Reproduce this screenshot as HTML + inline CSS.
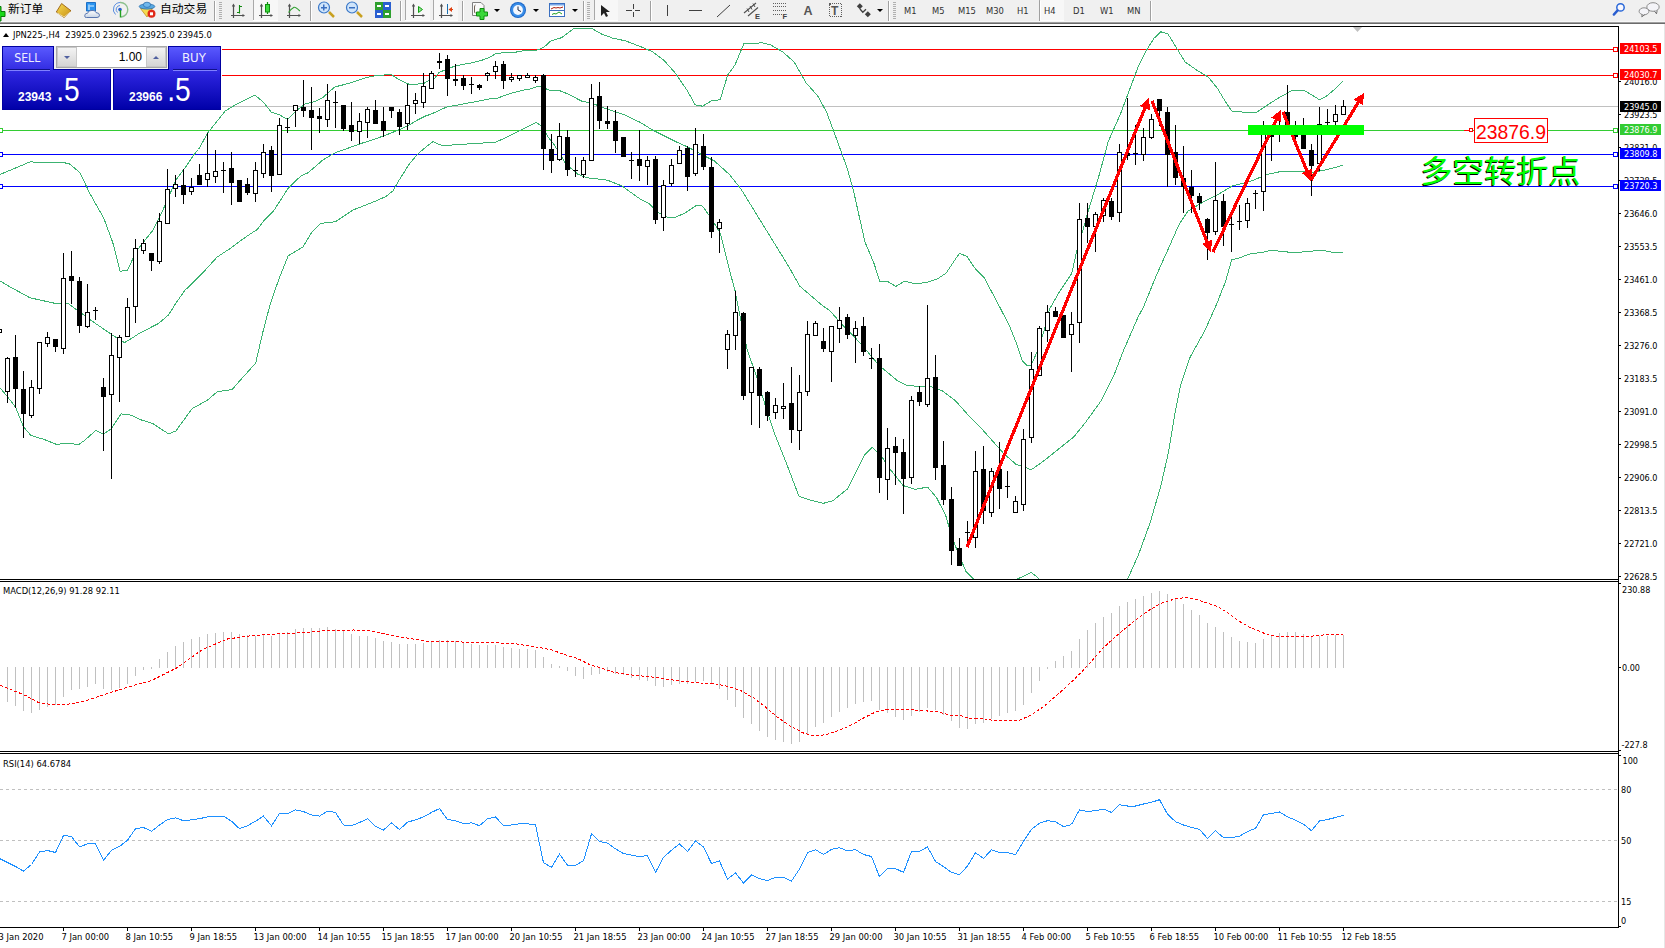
<!DOCTYPE html><html><head><meta charset="utf-8"><title>MT4 JPN225 H4</title><style>
html,body{margin:0;padding:0;background:#fff;}
body{width:1665px;height:948px;overflow:hidden;position:relative;}
svg{position:absolute;left:0;top:0;display:block;}
text{font-family:"Liberation Sans","DejaVu Sans",sans-serif;}
.cjk{font-family:"Liberation Sans","Noto Sans CJK SC","WenQuanYi Zen Hei",sans-serif;}
.s{font-family:"DejaVu Sans","Liberation Sans",sans-serif;}
</style></head><body>
<svg width="1665" height="948" viewBox="0 0 1665 948">
<defs><clipPath id="mainclip"><rect x="0" y="27" width="1618" height="552"/></clipPath><clipPath id="macdclip"><rect x="0" y="582" width="1618" height="169"/></clipPath><clipPath id="rsiclip"><rect x="0" y="754" width="1618" height="173"/></clipPath><linearGradient id="bluegrad" x1="0" y1="0" x2="0" y2="1"><stop offset="0" stop-color="#5a5aff"/><stop offset="0.45" stop-color="#2a22dc"/><stop offset="1" stop-color="#0000a8"/></linearGradient><linearGradient id="btngrad" x1="0" y1="0" x2="0" y2="1"><stop offset="0" stop-color="#f4f4f4"/><stop offset="1" stop-color="#d4d4d4"/></linearGradient></defs>
<g shape-rendering="crispEdges">
<rect x="0" y="0" width="1665" height="948" fill="#ffffff"/>
<rect x="0" y="0" width="1665" height="21" fill="#f0f0f0"/>
<rect x="0" y="21" width="1665" height="1" fill="#f7f7f7"/>
<rect x="0" y="22" width="1665" height="1" fill="#a0a0a0"/>
<rect x="0" y="23" width="1665" height="1" fill="#6b6b6b"/>
<rect x="1664" y="24" width="1" height="924" fill="#e6e6e6"/>
<rect x="0" y="26" width="1619" height="1" fill="#000"/>
<rect x="0" y="579" width="1619" height="1" fill="#000"/>
<rect x="0" y="581" width="1619" height="1" fill="#000"/>
<rect x="0" y="751" width="1619" height="1" fill="#000"/>
<rect x="0" y="753" width="1619" height="1" fill="#000"/>
<rect x="0" y="927" width="1619" height="1" fill="#000"/>
<rect x="1618" y="26" width="1" height="902" fill="#000"/>
</g>
<g shape-rendering="crispEdges"><rect x="1619" y="81" width="2" height="1" fill="#000"/><text class="s" x="1624.0" y="85.0" font-size="9" fill="#000" textLength="33.5" lengthAdjust="spacingAndGlyphs">24016.0</text><rect x="1619" y="114" width="2" height="1" fill="#000"/><text class="s" x="1624.0" y="118.0" font-size="9" fill="#000" textLength="33.5" lengthAdjust="spacingAndGlyphs">23923.5</text><rect x="1619" y="147" width="2" height="1" fill="#000"/><text class="s" x="1624.0" y="151.0" font-size="9" fill="#000" textLength="33.5" lengthAdjust="spacingAndGlyphs">23831.0</text><rect x="1619" y="180" width="2" height="1" fill="#000"/><text class="s" x="1624.0" y="184.0" font-size="9" fill="#000" textLength="33.5" lengthAdjust="spacingAndGlyphs">23738.5</text><rect x="1619" y="213" width="2" height="1" fill="#000"/><text class="s" x="1624.0" y="217.0" font-size="9" fill="#000" textLength="33.5" lengthAdjust="spacingAndGlyphs">23646.0</text><rect x="1619" y="246" width="2" height="1" fill="#000"/><text class="s" x="1624.0" y="250.0" font-size="9" fill="#000" textLength="33.5" lengthAdjust="spacingAndGlyphs">23553.5</text><rect x="1619" y="279" width="2" height="1" fill="#000"/><text class="s" x="1624.0" y="283.0" font-size="9" fill="#000" textLength="33.5" lengthAdjust="spacingAndGlyphs">23461.0</text><rect x="1619" y="312" width="2" height="1" fill="#000"/><text class="s" x="1624.0" y="316.0" font-size="9" fill="#000" textLength="33.5" lengthAdjust="spacingAndGlyphs">23368.5</text><rect x="1619" y="345" width="2" height="1" fill="#000"/><text class="s" x="1624.0" y="349.0" font-size="9" fill="#000" textLength="33.5" lengthAdjust="spacingAndGlyphs">23276.0</text><rect x="1619" y="378" width="2" height="1" fill="#000"/><text class="s" x="1624.0" y="382.0" font-size="9" fill="#000" textLength="33.5" lengthAdjust="spacingAndGlyphs">23183.5</text><rect x="1619" y="411" width="2" height="1" fill="#000"/><text class="s" x="1624.0" y="415.0" font-size="9" fill="#000" textLength="33.5" lengthAdjust="spacingAndGlyphs">23091.0</text><rect x="1619" y="444" width="2" height="1" fill="#000"/><text class="s" x="1624.0" y="448.0" font-size="9" fill="#000" textLength="33.5" lengthAdjust="spacingAndGlyphs">22998.5</text><rect x="1619" y="477" width="2" height="1" fill="#000"/><text class="s" x="1624.0" y="481.0" font-size="9" fill="#000" textLength="33.5" lengthAdjust="spacingAndGlyphs">22906.0</text><rect x="1619" y="510" width="2" height="1" fill="#000"/><text class="s" x="1624.0" y="514.0" font-size="9" fill="#000" textLength="33.5" lengthAdjust="spacingAndGlyphs">22813.5</text><rect x="1619" y="543" width="2" height="1" fill="#000"/><text class="s" x="1624.0" y="547.0" font-size="9" fill="#000" textLength="33.5" lengthAdjust="spacingAndGlyphs">22721.0</text><rect x="1619" y="576" width="2" height="1" fill="#000"/><text class="s" x="1624.0" y="580.0" font-size="9" fill="#000" textLength="33.5" lengthAdjust="spacingAndGlyphs">22628.5</text></g>
<g shape-rendering="crispEdges"><rect x="-1.5" y="329.5" width="3" height="3" fill="#fff" stroke="#000" stroke-width="1"/><rect x="222" y="49" width="1391" height="1" fill="#ff0000"/><rect x="1613.5" y="47.5" width="4" height="4" fill="#fff" stroke="#ff0000" stroke-width="1"/><rect x="222" y="75" width="1391" height="1" fill="#ff0000"/><rect x="1613.5" y="73.5" width="4" height="4" fill="#fff" stroke="#ff0000" stroke-width="1"/><rect x="222" y="106" width="1396" height="1" fill="#c0c0c0"/><rect x="0" y="130" width="1613" height="1" fill="#33cc33"/><rect x="1613.5" y="128.5" width="4" height="4" fill="#fff" stroke="#33cc33" stroke-width="1"/><rect x="-1.5" y="128.5" width="4" height="4" fill="#fff" stroke="#33cc33" stroke-width="1"/><rect x="0" y="154" width="1613" height="1" fill="#0000ff"/><rect x="1613.5" y="152.5" width="4" height="4" fill="#fff" stroke="#0000ff" stroke-width="1"/><rect x="-1.5" y="152.5" width="4" height="4" fill="#fff" stroke="#0000ff" stroke-width="1"/><rect x="0" y="186" width="1613" height="1" fill="#0000ff"/><rect x="1613.5" y="184.5" width="4" height="4" fill="#fff" stroke="#0000ff" stroke-width="1"/><rect x="-1.5" y="184.5" width="4" height="4" fill="#fff" stroke="#0000ff" stroke-width="1"/></g>
<g clip-path="url(#mainclip)" fill="none" stroke="#3cb371" stroke-width="1" shape-rendering="crispEdges">
<polyline points="-1.5,175.5 0.5,174.3 30.0,161.9 68.5,163.1 80.2,172.9 89.1,192.1 103.9,218.5 112.7,242.3 120.1,271.2 127.5,270.3 136.4,251.1 143.5,242.1 152.3,231.0 159.7,217.0 167.8,199.2 175.9,180.0 184.8,168.2 193.7,154.9 198.5,149.5 207.8,132.8 225.5,110.7 237.3,103.9 255.0,95.0 263.9,102.7 271.2,112.1 280.1,115.1 287.5,119.5 296.4,110.7 305.2,103.9 314.1,101.8 322.9,97.4 334.7,87.0 349.5,83.2 367.2,77.3 373.1,76.1 390.9,74.3 400.5,80.5 410.8,85.0 424.1,83.2 430.5,79.5 434.5,78.5 438.9,72.7 447.4,68.8 455.8,65.8 464.3,64.2 472.7,62.7 481.1,60.5 489.5,57.4 495.9,53.7 504.3,52.6 514.9,52.3 523.3,50.8 536.0,50.5 540.2,48.9 544.4,46.8 550.8,41.0 561.5,37.7 568.8,32.4 574.7,28.0 591.0,28.0 601.3,33.9 613.1,38.3 625.0,40.7 640.5,46.6 652.3,51.6 664.1,60.5 675.9,73.8 687.8,91.5 695.1,104.8 702.5,106.2 711.4,100.9 720.2,99.7 727.6,75.2 735.0,64.9 743.9,43.6 752.7,43.6 761.6,42.7 770.4,44.8 782.3,51.6 794.1,61.9 805.9,82.6 817.7,95.9 826.6,112.1 835.4,135.8 847.2,168.3 853.1,188.9 859.0,215.5 865.0,242.1 873.8,262.8 879.7,281.1 887.1,281.1 895.9,286.4 904.8,281.1 913.7,283.5 925.5,282.8 937.3,279.0 946.1,273.1 959.4,253.3 966.8,256.3 975.7,269.3 984.5,278.1 991.9,292.3 1000.7,308.8 1009.9,327.1 1016.0,342.3 1022.1,360.6 1026.7,365.2 1031.2,365.2 1037.3,351.5 1043.4,333.2 1049.5,308.8 1052.5,304.1 1057.4,295.1 1071.8,273.2 1076.8,250.5 1082.7,231.0 1087.8,212.5 1094.5,190.5 1099.4,174.2 1108.2,141.7 1120.0,115.1 1128.9,91.5 1137.8,67.8 1146.6,50.1 1154.0,38.3 1160.8,31.8 1167.9,33.9 1176.1,47.2 1185.0,61.9 1196.8,70.2 1208.6,77.3 1217.5,88.5 1226.4,103.3 1232.3,111.6 1244.1,112.1 1255.9,112.7 1267.7,104.8 1279.5,97.4 1291.3,90.9 1303.1,90.0 1312.0,95.0 1319.4,99.7 1326.8,95.9 1335.6,88.5 1343.0,81.1"/>
<polyline points="-1.5,280.5 0.5,281.2 9.4,286.5 30.0,297.8 56.6,303.7 68.5,303.7 89.1,319.0 112.7,335.3 124.5,342.7 136.4,335.3 140.5,332.6 158.2,323.7 168.6,314.9 175.3,304.1 184.8,290.5 202.5,273.1 217.3,256.9 229.1,249.2 246.9,236.2 257.2,229.5 264.6,219.9 273.5,211.1 288.2,188.2 300.5,176.3 308.2,172.7 322.2,160.5 333.8,153.3 360.2,143.8 376.0,138.6 384.5,135.6 397.1,130.6 407.6,125.9 418.2,119.6 425.5,116.0 430.5,114.3 438.9,110.6 447.4,106.7 455.8,105.4 465.3,103.6 472.7,102.2 481.1,100.6 489.5,99.0 497.0,98.5 504.3,95.4 514.9,92.2 523.3,90.1 529.7,89.2 536.0,86.9 540.2,86.7 546.5,89.0 551.8,90.9 560.2,90.9 567.6,93.8 582.4,101.5 590.5,102.7 607.2,109.2 625.0,115.1 640.5,122.5 652.3,129.9 664.1,135.8 675.9,141.7 687.8,147.0 699.6,153.5 714.3,160.9 729.1,174.2 740.9,188.9 752.7,208.1 764.5,227.3 776.4,246.5 788.2,265.7 800.0,286.4 811.8,296.5 823.6,306.5 829.5,310.3 841.7,324.0 853.9,336.2 866.1,350.0 878.8,365.2 887.9,372.8 897.1,380.4 906.2,385.0 918.4,386.5 930.6,386.5 942.8,391.1 955.0,400.3 967.2,414.0 979.4,426.2 991.6,439.9 1003.8,453.6 1016.0,464.3 1025.1,467.3 1031.2,469.8 1043.4,461.2 1058.7,449.0 1073.9,436.8 1086.1,421.6 1101.5,400.3 1113.7,375.9 1123.5,350.5 1138.1,317.0 1143.7,306.5 1155.5,277.5 1167.3,251.0 1179.1,224.4 1188.0,211.1 1202.7,202.2 1217.5,194.8 1232.3,186.0 1250.0,181.5 1267.7,174.2 1282.5,171.2 1297.2,171.2 1312.0,172.7 1326.8,169.7 1343.0,165.3"/>
<polyline points="-1.5,386.5 0.5,388.5 8.1,397.5 15.7,407.5 23.3,426.5 30.9,435.5 43.5,439.2 56.2,444.3 66.3,443.5 79.0,444.3 84.5,440.5 95.7,430.4 103.3,434.2 110.9,429.1 121.0,413.9 131.1,415.2 140.5,419.7 152.3,423.3 168.6,433.9 175.9,430.9 192.2,408.5 207.0,400.5 217.3,391.7 232.1,389.6 238.0,382.8 255.7,363.0 263.1,331.1 270.5,303.1 279.3,278.0 288.2,255.8 302.9,247.0 311.8,232.2 320.7,223.3 335.4,221.8 353.1,210.0 373.8,201.8 385.6,196.7 393.0,190.8 398.9,180.5 409.4,163.8 418.2,153.5 427.1,146.1 433.0,141.7 441.8,145.5 459.5,144.6 477.3,143.2 495.0,142.6 512.7,134.3 524.5,128.4 536.4,122.5 542.3,126.9 548.2,137.3 554.1,144.6 565.9,163.8 577.7,174.2 586.6,177.7 607.2,180.1 622.0,186.0 640.5,199.3 649.4,203.7 658.2,212.6 667.1,217.0 675.9,217.0 684.8,213.2 696.6,205.2 702.5,206.1 711.4,218.5 720.2,233.2 729.1,268.7 735.0,290.5 741.1,321.0 747.2,350.0 756.4,375.9 765.5,406.4 774.6,433.8 786.8,464.3 799.0,496.3 811.2,500.3 823.4,503.3 832.6,500.9 847.8,488.7 864.6,455.1 872.2,447.5 881.8,456.7 891.0,470.4 903.2,485.6 915.4,489.3 927.6,487.1 936.7,497.8 945.9,516.1 952.0,537.5 958.1,552.7 965.7,571.0 973.3,578.6 985.5,590.5 1005.5,590.5 1016.0,579.5 1025.1,575.5 1031.2,572.5 1037.3,577.1 1045.5,590.5 1115.5,600.5 1127.4,579.5 1138.1,555.7 1150.3,522.2 1160.9,485.6 1168.5,452.1 1174.6,415.5 1180.7,385.0 1189.9,357.6 1205.1,330.1 1217.3,302.7 1221.9,290.5 1224.9,283.5 1231.7,259.8 1238.2,258.3 1250.0,253.9 1261.8,252.4 1272.1,250.1 1282.5,251.8 1297.2,252.4 1309.0,251.5 1320.9,250.1 1332.7,252.4 1343.0,253.0"/>
</g>
<g clip-path="url(#mainclip)" shape-rendering="crispEdges"><rect x="7" y="357" width="1" height="46" fill="#000"/><rect x="5" y="358" width="5" height="34" fill="#000"/><rect x="6" y="359" width="3" height="32" fill="#fff"/><rect x="15" y="335" width="1" height="73" fill="#000"/><rect x="13" y="357" width="5" height="32" fill="#000"/><rect x="23" y="371" width="1" height="67" fill="#000"/><rect x="21" y="389" width="5" height="25" fill="#000"/><rect x="31" y="380" width="1" height="38" fill="#000"/><rect x="29" y="387" width="5" height="29" fill="#000"/><rect x="30" y="388" width="3" height="27" fill="#fff"/><rect x="39" y="342" width="1" height="52" fill="#000"/><rect x="37" y="342" width="5" height="47" fill="#000"/><rect x="38" y="343" width="3" height="45" fill="#fff"/><rect x="47" y="332" width="1" height="15" fill="#000"/><rect x="45" y="337" width="5" height="7" fill="#000"/><rect x="46" y="338" width="3" height="5" fill="#fff"/><rect x="55" y="339" width="1" height="13" fill="#000"/><rect x="53" y="339" width="5" height="8" fill="#000"/><rect x="63" y="253" width="1" height="101" fill="#000"/><rect x="61" y="278" width="5" height="71" fill="#000"/><rect x="62" y="279" width="3" height="69" fill="#fff"/><rect x="71" y="251" width="1" height="53" fill="#000"/><rect x="69" y="276" width="5" height="5" fill="#000"/><rect x="79" y="277" width="1" height="56" fill="#000"/><rect x="77" y="281" width="5" height="45" fill="#000"/><rect x="87" y="284" width="1" height="44" fill="#000"/><rect x="85" y="312" width="5" height="15" fill="#000"/><rect x="86" y="313" width="3" height="13" fill="#fff"/><rect x="95" y="307" width="1" height="13" fill="#000"/><rect x="93" y="310" width="5" height="1" fill="#000"/><rect x="103" y="378" width="1" height="73" fill="#000"/><rect x="101" y="387" width="5" height="10" fill="#000"/><rect x="111" y="333" width="1" height="146" fill="#000"/><rect x="109" y="355" width="5" height="40" fill="#000"/><rect x="110" y="356" width="3" height="38" fill="#fff"/><rect x="119" y="335" width="1" height="67" fill="#000"/><rect x="117" y="337" width="5" height="21" fill="#000"/><rect x="118" y="338" width="3" height="19" fill="#fff"/><rect x="127" y="298" width="1" height="39" fill="#000"/><rect x="125" y="307" width="5" height="30" fill="#000"/><rect x="126" y="308" width="3" height="28" fill="#fff"/><rect x="135" y="239" width="1" height="84" fill="#000"/><rect x="133" y="248" width="5" height="59" fill="#000"/><rect x="134" y="249" width="3" height="57" fill="#fff"/><rect x="143" y="239" width="1" height="15" fill="#000"/><rect x="141" y="243" width="5" height="8" fill="#000"/><rect x="142" y="244" width="3" height="6" fill="#fff"/><rect x="151" y="253" width="1" height="18" fill="#000"/><rect x="149" y="253" width="5" height="8" fill="#000"/><rect x="159" y="213" width="1" height="51" fill="#000"/><rect x="157" y="221" width="5" height="41" fill="#000"/><rect x="158" y="222" width="3" height="39" fill="#fff"/><rect x="167" y="169" width="1" height="55" fill="#000"/><rect x="165" y="189" width="5" height="35" fill="#000"/><rect x="166" y="190" width="3" height="33" fill="#fff"/><rect x="175" y="175" width="1" height="22" fill="#000"/><rect x="173" y="184" width="5" height="5" fill="#000"/><rect x="174" y="185" width="3" height="3" fill="#fff"/><rect x="183" y="169" width="1" height="35" fill="#000"/><rect x="181" y="185" width="5" height="10" fill="#000"/><rect x="191" y="178" width="1" height="17" fill="#000"/><rect x="189" y="187" width="5" height="5" fill="#000"/><rect x="190" y="188" width="3" height="3" fill="#fff"/><rect x="199" y="164" width="1" height="21" fill="#000"/><rect x="197" y="175" width="5" height="10" fill="#000"/><rect x="207" y="133" width="1" height="54" fill="#000"/><rect x="205" y="173" width="5" height="7" fill="#000"/><rect x="206" y="174" width="3" height="5" fill="#fff"/><rect x="215" y="150" width="1" height="33" fill="#000"/><rect x="213" y="171" width="5" height="6" fill="#000"/><rect x="214" y="172" width="3" height="4" fill="#fff"/><rect x="223" y="162" width="1" height="31" fill="#000"/><rect x="221" y="170" width="5" height="1" fill="#000"/><rect x="231" y="152" width="1" height="53" fill="#000"/><rect x="229" y="168" width="5" height="15" fill="#000"/><rect x="239" y="180" width="1" height="22" fill="#000"/><rect x="237" y="180" width="5" height="22" fill="#000"/><rect x="247" y="178" width="1" height="17" fill="#000"/><rect x="245" y="184" width="5" height="9" fill="#000"/><rect x="255" y="162" width="1" height="40" fill="#000"/><rect x="253" y="170" width="5" height="24" fill="#000"/><rect x="254" y="171" width="3" height="22" fill="#fff"/><rect x="263" y="144" width="1" height="34" fill="#000"/><rect x="261" y="152" width="5" height="22" fill="#000"/><rect x="262" y="153" width="3" height="20" fill="#fff"/><rect x="271" y="146" width="1" height="46" fill="#000"/><rect x="269" y="150" width="5" height="26" fill="#000"/><rect x="279" y="118" width="1" height="57" fill="#000"/><rect x="277" y="125" width="5" height="50" fill="#000"/><rect x="278" y="126" width="3" height="48" fill="#fff"/><rect x="287" y="118" width="1" height="15" fill="#000"/><rect x="285" y="127" width="5" height="1" fill="#000"/><rect x="295" y="105" width="1" height="22" fill="#000"/><rect x="293" y="105" width="5" height="6" fill="#000"/><rect x="294" y="106" width="3" height="4" fill="#fff"/><rect x="303" y="80" width="1" height="37" fill="#000"/><rect x="301" y="107" width="5" height="4" fill="#000"/><rect x="311" y="87" width="1" height="63" fill="#000"/><rect x="309" y="110" width="5" height="8" fill="#000"/><rect x="319" y="108" width="1" height="25" fill="#000"/><rect x="317" y="116" width="5" height="3" fill="#000"/><rect x="327" y="84" width="1" height="43" fill="#000"/><rect x="325" y="100" width="5" height="20" fill="#000"/><rect x="326" y="101" width="3" height="18" fill="#fff"/><rect x="335" y="91" width="1" height="37" fill="#000"/><rect x="333" y="102" width="5" height="1" fill="#000"/><rect x="343" y="105" width="1" height="26" fill="#000"/><rect x="341" y="105" width="5" height="24" fill="#000"/><rect x="351" y="102" width="1" height="39" fill="#000"/><rect x="349" y="125" width="5" height="7" fill="#000"/><rect x="359" y="113" width="1" height="31" fill="#000"/><rect x="357" y="121" width="5" height="11" fill="#000"/><rect x="358" y="122" width="3" height="9" fill="#fff"/><rect x="367" y="107" width="1" height="31" fill="#000"/><rect x="365" y="109" width="5" height="14" fill="#000"/><rect x="366" y="110" width="3" height="12" fill="#fff"/><rect x="375" y="100" width="1" height="24" fill="#000"/><rect x="373" y="110" width="5" height="14" fill="#000"/><rect x="383" y="107" width="1" height="30" fill="#000"/><rect x="381" y="121" width="5" height="10" fill="#000"/><rect x="391" y="107" width="1" height="11" fill="#000"/><rect x="389" y="107" width="5" height="4" fill="#000"/><rect x="399" y="109" width="1" height="26" fill="#000"/><rect x="397" y="112" width="5" height="15" fill="#000"/><rect x="407" y="84" width="1" height="46" fill="#000"/><rect x="405" y="105" width="5" height="19" fill="#000"/><rect x="406" y="106" width="3" height="17" fill="#fff"/><rect x="415" y="93" width="1" height="21" fill="#000"/><rect x="413" y="100" width="5" height="4" fill="#000"/><rect x="414" y="101" width="3" height="2" fill="#fff"/><rect x="423" y="73" width="1" height="35" fill="#000"/><rect x="421" y="86" width="5" height="17" fill="#000"/><rect x="422" y="87" width="3" height="15" fill="#fff"/><rect x="431" y="71" width="1" height="18" fill="#000"/><rect x="429" y="73" width="5" height="16" fill="#000"/><rect x="430" y="74" width="3" height="14" fill="#fff"/><rect x="439" y="53" width="1" height="16" fill="#000"/><rect x="437" y="61" width="5" height="2" fill="#000"/><rect x="447" y="55" width="1" height="41" fill="#000"/><rect x="445" y="59" width="5" height="20" fill="#000"/><rect x="455" y="64" width="1" height="22" fill="#000"/><rect x="453" y="79" width="5" height="2" fill="#000"/><rect x="463" y="75" width="1" height="15" fill="#000"/><rect x="461" y="78" width="5" height="8" fill="#000"/><rect x="471" y="77" width="1" height="17" fill="#000"/><rect x="469" y="84" width="5" height="1" fill="#000"/><rect x="479" y="84" width="1" height="6" fill="#000"/><rect x="477" y="85" width="5" height="3" fill="#000"/><rect x="487" y="72" width="1" height="9" fill="#000"/><rect x="485" y="73" width="5" height="3" fill="#000"/><rect x="486" y="74" width="3" height="1" fill="#fff"/><rect x="495" y="61" width="1" height="18" fill="#000"/><rect x="493" y="66" width="5" height="6" fill="#000"/><rect x="494" y="67" width="3" height="4" fill="#fff"/><rect x="503" y="61" width="1" height="28" fill="#000"/><rect x="501" y="64" width="5" height="17" fill="#000"/><rect x="511" y="73" width="1" height="9" fill="#000"/><rect x="509" y="77" width="5" height="3" fill="#000"/><rect x="510" y="78" width="3" height="1" fill="#fff"/><rect x="519" y="75" width="1" height="6" fill="#000"/><rect x="517" y="75" width="5" height="4" fill="#000"/><rect x="518" y="76" width="3" height="2" fill="#fff"/><rect x="527" y="73" width="1" height="5" fill="#000"/><rect x="525" y="75" width="5" height="3" fill="#000"/><rect x="526" y="76" width="3" height="1" fill="#fff"/><rect x="535" y="75" width="1" height="8" fill="#000"/><rect x="533" y="77" width="5" height="4" fill="#000"/><rect x="534" y="78" width="3" height="2" fill="#fff"/><rect x="543" y="74" width="1" height="96" fill="#000"/><rect x="541" y="75" width="5" height="74" fill="#000"/><rect x="551" y="134" width="1" height="39" fill="#000"/><rect x="549" y="149" width="5" height="12" fill="#000"/><rect x="559" y="123" width="1" height="38" fill="#000"/><rect x="557" y="136" width="5" height="24" fill="#000"/><rect x="558" y="137" width="3" height="22" fill="#fff"/><rect x="567" y="130" width="1" height="46" fill="#000"/><rect x="565" y="137" width="5" height="33" fill="#000"/><rect x="575" y="157" width="1" height="20" fill="#000"/><rect x="573" y="170" width="5" height="1" fill="#000"/><rect x="583" y="157" width="1" height="21" fill="#000"/><rect x="581" y="160" width="5" height="15" fill="#000"/><rect x="582" y="161" width="3" height="13" fill="#fff"/><rect x="591" y="84" width="1" height="77" fill="#000"/><rect x="589" y="98" width="5" height="63" fill="#000"/><rect x="590" y="99" width="3" height="61" fill="#fff"/><rect x="599" y="82" width="1" height="47" fill="#000"/><rect x="597" y="96" width="5" height="25" fill="#000"/><rect x="607" y="106" width="1" height="23" fill="#000"/><rect x="605" y="121" width="5" height="3" fill="#000"/><rect x="615" y="110" width="1" height="43" fill="#000"/><rect x="613" y="121" width="5" height="20" fill="#000"/><rect x="623" y="137" width="1" height="20" fill="#000"/><rect x="621" y="137" width="5" height="20" fill="#000"/><rect x="631" y="152" width="1" height="27" fill="#000"/><rect x="629" y="160" width="5" height="1" fill="#000"/><rect x="639" y="130" width="1" height="51" fill="#000"/><rect x="637" y="159" width="5" height="7" fill="#000"/><rect x="647" y="156" width="1" height="29" fill="#000"/><rect x="645" y="160" width="5" height="7" fill="#000"/><rect x="646" y="161" width="3" height="5" fill="#fff"/><rect x="655" y="156" width="1" height="68" fill="#000"/><rect x="653" y="159" width="5" height="61" fill="#000"/><rect x="663" y="180" width="1" height="51" fill="#000"/><rect x="661" y="185" width="5" height="33" fill="#000"/><rect x="662" y="186" width="3" height="31" fill="#fff"/><rect x="671" y="159" width="1" height="27" fill="#000"/><rect x="669" y="165" width="5" height="19" fill="#000"/><rect x="670" y="166" width="3" height="17" fill="#fff"/><rect x="679" y="146" width="1" height="18" fill="#000"/><rect x="677" y="150" width="5" height="14" fill="#000"/><rect x="678" y="151" width="3" height="12" fill="#fff"/><rect x="687" y="146" width="1" height="45" fill="#000"/><rect x="685" y="148" width="5" height="29" fill="#000"/><rect x="695" y="128" width="1" height="48" fill="#000"/><rect x="693" y="144" width="5" height="30" fill="#000"/><rect x="694" y="145" width="3" height="28" fill="#fff"/><rect x="703" y="134" width="1" height="36" fill="#000"/><rect x="701" y="146" width="5" height="21" fill="#000"/><rect x="711" y="157" width="1" height="81" fill="#000"/><rect x="709" y="167" width="5" height="65" fill="#000"/><rect x="719" y="219" width="1" height="34" fill="#000"/><rect x="717" y="222" width="5" height="7" fill="#000"/><rect x="718" y="223" width="3" height="5" fill="#fff"/><rect x="727" y="330" width="1" height="39" fill="#000"/><rect x="725" y="334" width="5" height="16" fill="#000"/><rect x="726" y="335" width="3" height="14" fill="#fff"/><rect x="735" y="291" width="1" height="59" fill="#000"/><rect x="733" y="312" width="5" height="24" fill="#000"/><rect x="734" y="313" width="3" height="22" fill="#fff"/><rect x="743" y="312" width="1" height="88" fill="#000"/><rect x="741" y="313" width="5" height="83" fill="#000"/><rect x="751" y="367" width="1" height="58" fill="#000"/><rect x="749" y="367" width="5" height="26" fill="#000"/><rect x="750" y="368" width="3" height="24" fill="#fff"/><rect x="759" y="367" width="1" height="61" fill="#000"/><rect x="757" y="369" width="5" height="27" fill="#000"/><rect x="767" y="391" width="1" height="30" fill="#000"/><rect x="765" y="392" width="5" height="24" fill="#000"/><rect x="775" y="398" width="1" height="21" fill="#000"/><rect x="773" y="405" width="5" height="8" fill="#000"/><rect x="774" y="406" width="3" height="6" fill="#fff"/><rect x="783" y="383" width="1" height="36" fill="#000"/><rect x="781" y="406" width="5" height="3" fill="#000"/><rect x="782" y="407" width="3" height="1" fill="#fff"/><rect x="791" y="367" width="1" height="76" fill="#000"/><rect x="789" y="403" width="5" height="27" fill="#000"/><rect x="799" y="375" width="1" height="75" fill="#000"/><rect x="797" y="392" width="5" height="39" fill="#000"/><rect x="798" y="393" width="3" height="37" fill="#fff"/><rect x="807" y="321" width="1" height="75" fill="#000"/><rect x="805" y="334" width="5" height="58" fill="#000"/><rect x="806" y="335" width="3" height="56" fill="#fff"/><rect x="815" y="321" width="1" height="15" fill="#000"/><rect x="813" y="323" width="5" height="13" fill="#000"/><rect x="814" y="324" width="3" height="11" fill="#fff"/><rect x="823" y="328" width="1" height="24" fill="#000"/><rect x="821" y="341" width="5" height="8" fill="#000"/><rect x="831" y="326" width="1" height="56" fill="#000"/><rect x="829" y="326" width="5" height="26" fill="#000"/><rect x="830" y="327" width="3" height="24" fill="#fff"/><rect x="839" y="307" width="1" height="36" fill="#000"/><rect x="837" y="320" width="5" height="9" fill="#000"/><rect x="838" y="321" width="3" height="7" fill="#fff"/><rect x="847" y="314" width="1" height="25" fill="#000"/><rect x="845" y="317" width="5" height="18" fill="#000"/><rect x="855" y="321" width="1" height="42" fill="#000"/><rect x="853" y="328" width="5" height="8" fill="#000"/><rect x="854" y="329" width="3" height="6" fill="#fff"/><rect x="863" y="317" width="1" height="39" fill="#000"/><rect x="861" y="326" width="5" height="26" fill="#000"/><rect x="871" y="348" width="1" height="21" fill="#000"/><rect x="869" y="358" width="5" height="1" fill="#000"/><rect x="879" y="344" width="1" height="149" fill="#000"/><rect x="877" y="358" width="5" height="120" fill="#000"/><rect x="887" y="428" width="1" height="72" fill="#000"/><rect x="885" y="448" width="5" height="32" fill="#000"/><rect x="886" y="449" width="3" height="30" fill="#fff"/><rect x="895" y="437" width="1" height="48" fill="#000"/><rect x="893" y="446" width="5" height="7" fill="#000"/><rect x="903" y="439" width="1" height="75" fill="#000"/><rect x="901" y="452" width="5" height="27" fill="#000"/><rect x="911" y="396" width="1" height="88" fill="#000"/><rect x="909" y="400" width="5" height="78" fill="#000"/><rect x="910" y="401" width="3" height="76" fill="#fff"/><rect x="919" y="386" width="1" height="20" fill="#000"/><rect x="917" y="392" width="5" height="10" fill="#000"/><rect x="927" y="305" width="1" height="102" fill="#000"/><rect x="925" y="378" width="5" height="27" fill="#000"/><rect x="926" y="379" width="3" height="25" fill="#fff"/><rect x="935" y="355" width="1" height="125" fill="#000"/><rect x="933" y="377" width="5" height="91" fill="#000"/><rect x="943" y="441" width="1" height="64" fill="#000"/><rect x="941" y="465" width="5" height="35" fill="#000"/><rect x="951" y="487" width="1" height="78" fill="#000"/><rect x="949" y="499" width="5" height="52" fill="#000"/><rect x="959" y="538" width="1" height="28" fill="#000"/><rect x="957" y="548" width="5" height="18" fill="#000"/><rect x="967" y="521" width="1" height="24" fill="#000"/><rect x="965" y="532" width="5" height="1" fill="#000"/><rect x="975" y="451" width="1" height="97" fill="#000"/><rect x="973" y="471" width="5" height="67" fill="#000"/><rect x="974" y="472" width="3" height="65" fill="#fff"/><rect x="983" y="446" width="1" height="78" fill="#000"/><rect x="981" y="469" width="5" height="42" fill="#000"/><rect x="991" y="468" width="1" height="49" fill="#000"/><rect x="989" y="471" width="5" height="42" fill="#000"/><rect x="990" y="472" width="3" height="40" fill="#fff"/><rect x="999" y="442" width="1" height="67" fill="#000"/><rect x="997" y="469" width="5" height="20" fill="#000"/><rect x="1007" y="471" width="1" height="27" fill="#000"/><rect x="1005" y="486" width="5" height="1" fill="#000"/><rect x="1015" y="496" width="1" height="17" fill="#000"/><rect x="1013" y="501" width="5" height="12" fill="#000"/><rect x="1014" y="502" width="3" height="10" fill="#fff"/><rect x="1023" y="429" width="1" height="82" fill="#000"/><rect x="1021" y="439" width="5" height="66" fill="#000"/><rect x="1022" y="440" width="3" height="64" fill="#fff"/><rect x="1031" y="352" width="1" height="91" fill="#000"/><rect x="1029" y="369" width="5" height="69" fill="#000"/><rect x="1030" y="370" width="3" height="67" fill="#fff"/><rect x="1039" y="326" width="1" height="50" fill="#000"/><rect x="1037" y="328" width="5" height="48" fill="#000"/><rect x="1038" y="329" width="3" height="46" fill="#fff"/><rect x="1047" y="305" width="1" height="37" fill="#000"/><rect x="1045" y="312" width="5" height="19" fill="#000"/><rect x="1046" y="313" width="3" height="17" fill="#fff"/><rect x="1055" y="307" width="1" height="10" fill="#000"/><rect x="1053" y="311" width="5" height="6" fill="#000"/><rect x="1063" y="315" width="1" height="23" fill="#000"/><rect x="1061" y="315" width="5" height="23" fill="#000"/><rect x="1071" y="312" width="1" height="60" fill="#000"/><rect x="1069" y="324" width="5" height="11" fill="#000"/><rect x="1070" y="325" width="3" height="9" fill="#fff"/><rect x="1079" y="203" width="1" height="140" fill="#000"/><rect x="1077" y="219" width="5" height="104" fill="#000"/><rect x="1078" y="220" width="3" height="102" fill="#fff"/><rect x="1087" y="203" width="1" height="40" fill="#000"/><rect x="1085" y="218" width="5" height="9" fill="#000"/><rect x="1095" y="212" width="1" height="40" fill="#000"/><rect x="1093" y="214" width="5" height="13" fill="#000"/><rect x="1094" y="215" width="3" height="11" fill="#fff"/><rect x="1103" y="198" width="1" height="24" fill="#000"/><rect x="1101" y="200" width="5" height="16" fill="#000"/><rect x="1102" y="201" width="3" height="14" fill="#fff"/><rect x="1111" y="198" width="1" height="22" fill="#000"/><rect x="1109" y="201" width="5" height="16" fill="#000"/><rect x="1119" y="144" width="1" height="78" fill="#000"/><rect x="1117" y="152" width="5" height="61" fill="#000"/><rect x="1118" y="153" width="3" height="59" fill="#fff"/><rect x="1127" y="98" width="1" height="62" fill="#000"/><rect x="1125" y="153" width="5" height="3" fill="#000"/><rect x="1135" y="125" width="1" height="40" fill="#000"/><rect x="1133" y="153" width="5" height="1" fill="#000"/><rect x="1143" y="128" width="1" height="33" fill="#000"/><rect x="1141" y="137" width="5" height="18" fill="#000"/><rect x="1142" y="138" width="3" height="16" fill="#fff"/><rect x="1151" y="114" width="1" height="25" fill="#000"/><rect x="1149" y="119" width="5" height="19" fill="#000"/><rect x="1150" y="120" width="3" height="17" fill="#fff"/><rect x="1159" y="99" width="1" height="27" fill="#000"/><rect x="1157" y="99" width="5" height="12" fill="#000"/><rect x="1167" y="107" width="1" height="80" fill="#000"/><rect x="1165" y="112" width="5" height="43" fill="#000"/><rect x="1175" y="125" width="1" height="60" fill="#000"/><rect x="1173" y="152" width="5" height="26" fill="#000"/><rect x="1183" y="146" width="1" height="67" fill="#000"/><rect x="1181" y="178" width="5" height="9" fill="#000"/><rect x="1191" y="170" width="1" height="43" fill="#000"/><rect x="1189" y="187" width="5" height="9" fill="#000"/><rect x="1199" y="193" width="1" height="17" fill="#000"/><rect x="1197" y="196" width="5" height="7" fill="#000"/><rect x="1207" y="218" width="1" height="42" fill="#000"/><rect x="1205" y="219" width="5" height="14" fill="#000"/><rect x="1215" y="162" width="1" height="73" fill="#000"/><rect x="1213" y="200" width="5" height="32" fill="#000"/><rect x="1214" y="201" width="3" height="30" fill="#fff"/><rect x="1223" y="194" width="1" height="52" fill="#000"/><rect x="1221" y="201" width="5" height="26" fill="#000"/><rect x="1231" y="217" width="1" height="35" fill="#000"/><rect x="1229" y="224" width="5" height="1" fill="#000"/><rect x="1239" y="205" width="1" height="25" fill="#000"/><rect x="1237" y="221" width="5" height="1" fill="#000"/><rect x="1247" y="198" width="1" height="30" fill="#000"/><rect x="1245" y="203" width="5" height="18" fill="#000"/><rect x="1246" y="204" width="3" height="16" fill="#fff"/><rect x="1255" y="190" width="1" height="19" fill="#000"/><rect x="1253" y="193" width="5" height="1" fill="#000"/><rect x="1263" y="121" width="1" height="90" fill="#000"/><rect x="1261" y="130" width="5" height="62" fill="#000"/><rect x="1262" y="131" width="3" height="60" fill="#fff"/><rect x="1271" y="126" width="1" height="35" fill="#000"/><rect x="1269" y="131" width="5" height="6" fill="#000"/><rect x="1279" y="111" width="1" height="31" fill="#000"/><rect x="1277" y="128" width="5" height="5" fill="#000"/><rect x="1287" y="85" width="1" height="44" fill="#000"/><rect x="1285" y="112" width="5" height="14" fill="#000"/><rect x="1295" y="121" width="1" height="20" fill="#000"/><rect x="1293" y="130" width="5" height="7" fill="#000"/><rect x="1303" y="118" width="1" height="31" fill="#000"/><rect x="1301" y="130" width="5" height="19" fill="#000"/><rect x="1311" y="144" width="1" height="52" fill="#000"/><rect x="1309" y="150" width="5" height="16" fill="#000"/><rect x="1319" y="107" width="1" height="64" fill="#000"/><rect x="1317" y="124" width="5" height="40" fill="#000"/><rect x="1318" y="125" width="3" height="38" fill="#fff"/><rect x="1327" y="109" width="1" height="20" fill="#000"/><rect x="1325" y="122" width="5" height="1" fill="#000"/><rect x="1335" y="105" width="1" height="21" fill="#000"/><rect x="1333" y="114" width="5" height="8" fill="#000"/><rect x="1334" y="115" width="3" height="6" fill="#fff"/><rect x="1343" y="100" width="1" height="15" fill="#000"/><rect x="1341" y="106" width="5" height="9" fill="#000"/><rect x="1342" y="107" width="3" height="7" fill="#fff"/></g>
<g clip-path="url(#mainclip)"><line x1="967.0" y1="547.0" x2="1145.6" y2="106.3" stroke="#ff0000" stroke-width="3.2" shape-rendering="crispEdges"/><polygon points="1149.0,98.0 1150.0,110.3 1139.8,106.1" fill="#ff0000" shape-rendering="crispEdges"/><line x1="1152.0" y1="101.0" x2="1207.7" y2="243.6" stroke="#ff0000" stroke-width="3.2" shape-rendering="crispEdges"/><polygon points="1211.0,252.0 1201.9,243.8 1212.1,239.8" fill="#ff0000" shape-rendering="crispEdges"/><line x1="1213.0" y1="252.0" x2="1277.1" y2="118.1" stroke="#ff0000" stroke-width="3.2" shape-rendering="crispEdges"/><polygon points="1281.0,110.0 1281.2,122.3 1271.3,117.5" fill="#ff0000" shape-rendering="crispEdges"/><line x1="1283.0" y1="112.0" x2="1307.6" y2="172.7" stroke="#ff0000" stroke-width="3.2" shape-rendering="crispEdges"/><polygon points="1311.0,181.0 1301.8,172.9 1312.0,168.7" fill="#ff0000" shape-rendering="crispEdges"/><line x1="1311.0" y1="180.0" x2="1359.3" y2="100.7" stroke="#ff0000" stroke-width="3.2" shape-rendering="crispEdges"/><polygon points="1364.0,93.0 1363.0,105.3 1353.6,99.5" fill="#ff0000" shape-rendering="crispEdges"/></g>
<g clip-path="url(#mainclip)"><rect x="1248" y="125" width="116" height="10" fill="#00ff00" shape-rendering="crispEdges"/><rect x="1464" y="130" width="7" height="1" fill="#ff0000" shape-rendering="crispEdges"/><rect x="1469.5" y="128.5" width="3" height="3" fill="#fff" stroke="#ff0000" stroke-width="1" shape-rendering="crispEdges"/><rect x="1474.5" y="118.5" width="73" height="24" fill="#fff" stroke="#ff0000" stroke-width="1" shape-rendering="crispEdges"/><text x="1476" y="138.6" font-size="21" fill="#ff0000" textLength="70" lengthAdjust="spacingAndGlyphs">23876.9</text><text class="cjk" x="1419.5" y="183" font-size="31" fill="#000000" textLength="160" lengthAdjust="spacingAndGlyphs">多空转折点</text><text class="cjk" x="1420.5" y="182" font-size="31" fill="#00ff00" textLength="160" lengthAdjust="spacingAndGlyphs">多空转折点</text></g>
<rect x="1620" y="43" width="41" height="11" fill="#ff0000" shape-rendering="crispEdges"/><text class="s" x="1624.0" y="52.0" font-size="9" fill="#fff" textLength="33.5" lengthAdjust="spacingAndGlyphs">24103.5</text><rect x="1620" y="69" width="41" height="11" fill="#ff0000" shape-rendering="crispEdges"/><text class="s" x="1624.0" y="78.0" font-size="9" fill="#fff" textLength="33.5" lengthAdjust="spacingAndGlyphs">24030.7</text><rect x="1620" y="101" width="41" height="11" fill="#000000" shape-rendering="crispEdges"/><text class="s" x="1624.0" y="110.0" font-size="9" fill="#fff" textLength="33.5" lengthAdjust="spacingAndGlyphs">23945.0</text><rect x="1620" y="124" width="41" height="11" fill="#33cc33" shape-rendering="crispEdges"/><text class="s" x="1624.0" y="133.0" font-size="9" fill="#fff" textLength="33.5" lengthAdjust="spacingAndGlyphs">23876.9</text><rect x="1620" y="148" width="41" height="11" fill="#0000ff" shape-rendering="crispEdges"/><text class="s" x="1624.0" y="157.0" font-size="9" fill="#fff" textLength="33.5" lengthAdjust="spacingAndGlyphs">23809.8</text><rect x="1620" y="180" width="41" height="11" fill="#0000ff" shape-rendering="crispEdges"/><text class="s" x="1624.0" y="189.0" font-size="9" fill="#fff" textLength="33.5" lengthAdjust="spacingAndGlyphs">23720.3</text>
<polygon points="1353,27 1362,27 1357.5,32" fill="#c0c0c0"/>
<polygon points="3,37 9,37 6,33" fill="#000"/>
<text class="s" x="13.0" y="38.0" font-size="9" fill="#000" textLength="198.8" lengthAdjust="spacingAndGlyphs">JPN225-,H4&#160;&#160;23925.0 23962.5 23925.0 23945.0</text>
<g clip-path="url(#macdclip)" shape-rendering="crispEdges"><rect x="7" y="667" width="1" height="35" fill="#c0c0c0"/><rect x="15" y="667" width="1" height="39" fill="#c0c0c0"/><rect x="23" y="667" width="1" height="44" fill="#c0c0c0"/><rect x="31" y="667" width="1" height="46" fill="#c0c0c0"/><rect x="39" y="667" width="1" height="43" fill="#c0c0c0"/><rect x="47" y="667" width="1" height="40" fill="#c0c0c0"/><rect x="55" y="667" width="1" height="38" fill="#c0c0c0"/><rect x="63" y="667" width="1" height="30" fill="#c0c0c0"/><rect x="71" y="667" width="1" height="23" fill="#c0c0c0"/><rect x="79" y="667" width="1" height="22" fill="#c0c0c0"/><rect x="87" y="667" width="1" height="20" fill="#c0c0c0"/><rect x="95" y="667" width="1" height="17" fill="#c0c0c0"/><rect x="103" y="667" width="1" height="22" fill="#c0c0c0"/><rect x="111" y="667" width="1" height="23" fill="#c0c0c0"/><rect x="119" y="667" width="1" height="21" fill="#c0c0c0"/><rect x="127" y="667" width="1" height="17" fill="#c0c0c0"/><rect x="135" y="667" width="1" height="9" fill="#c0c0c0"/><rect x="143" y="667" width="1" height="3" fill="#c0c0c0"/><rect x="151" y="667" width="1" height="2" fill="#c0c0c0"/><rect x="159" y="659" width="1" height="9" fill="#c0c0c0"/><rect x="167" y="652" width="1" height="16" fill="#c0c0c0"/><rect x="175" y="646" width="1" height="22" fill="#c0c0c0"/><rect x="183" y="642" width="1" height="26" fill="#c0c0c0"/><rect x="191" y="639" width="1" height="29" fill="#c0c0c0"/><rect x="199" y="637" width="1" height="31" fill="#c0c0c0"/><rect x="207" y="634" width="1" height="34" fill="#c0c0c0"/><rect x="215" y="633" width="1" height="35" fill="#c0c0c0"/><rect x="223" y="632" width="1" height="36" fill="#c0c0c0"/><rect x="231" y="632" width="1" height="36" fill="#c0c0c0"/><rect x="239" y="634" width="1" height="34" fill="#c0c0c0"/><rect x="247" y="635" width="1" height="33" fill="#c0c0c0"/><rect x="255" y="636" width="1" height="32" fill="#c0c0c0"/><rect x="263" y="634" width="1" height="34" fill="#c0c0c0"/><rect x="271" y="636" width="1" height="32" fill="#c0c0c0"/><rect x="279" y="633" width="1" height="35" fill="#c0c0c0"/><rect x="287" y="632" width="1" height="36" fill="#c0c0c0"/><rect x="295" y="629" width="1" height="39" fill="#c0c0c0"/><rect x="303" y="628" width="1" height="40" fill="#c0c0c0"/><rect x="311" y="628" width="1" height="40" fill="#c0c0c0"/><rect x="319" y="628" width="1" height="40" fill="#c0c0c0"/><rect x="327" y="627" width="1" height="41" fill="#c0c0c0"/><rect x="335" y="629" width="1" height="39" fill="#c0c0c0"/><rect x="343" y="631" width="1" height="37" fill="#c0c0c0"/><rect x="351" y="634" width="1" height="34" fill="#c0c0c0"/><rect x="359" y="636" width="1" height="32" fill="#c0c0c0"/><rect x="367" y="636" width="1" height="32" fill="#c0c0c0"/><rect x="375" y="638" width="1" height="30" fill="#c0c0c0"/><rect x="383" y="641" width="1" height="27" fill="#c0c0c0"/><rect x="391" y="642" width="1" height="26" fill="#c0c0c0"/><rect x="399" y="644" width="1" height="24" fill="#c0c0c0"/><rect x="407" y="644" width="1" height="24" fill="#c0c0c0"/><rect x="415" y="644" width="1" height="24" fill="#c0c0c0"/><rect x="423" y="643" width="1" height="25" fill="#c0c0c0"/><rect x="431" y="642" width="1" height="26" fill="#c0c0c0"/><rect x="439" y="640" width="1" height="28" fill="#c0c0c0"/><rect x="447" y="640" width="1" height="28" fill="#c0c0c0"/><rect x="455" y="641" width="1" height="27" fill="#c0c0c0"/><rect x="463" y="643" width="1" height="25" fill="#c0c0c0"/><rect x="471" y="644" width="1" height="24" fill="#c0c0c0"/><rect x="479" y="645" width="1" height="23" fill="#c0c0c0"/><rect x="487" y="645" width="1" height="23" fill="#c0c0c0"/><rect x="495" y="645" width="1" height="23" fill="#c0c0c0"/><rect x="503" y="647" width="1" height="21" fill="#c0c0c0"/><rect x="511" y="648" width="1" height="20" fill="#c0c0c0"/><rect x="519" y="649" width="1" height="19" fill="#c0c0c0"/><rect x="527" y="649" width="1" height="19" fill="#c0c0c0"/><rect x="535" y="650" width="1" height="18" fill="#c0c0c0"/><rect x="543" y="657" width="1" height="11" fill="#c0c0c0"/><rect x="551" y="664" width="1" height="4" fill="#c0c0c0"/><rect x="559" y="666" width="1" height="2" fill="#c0c0c0"/><rect x="567" y="667" width="1" height="4" fill="#c0c0c0"/><rect x="575" y="667" width="1" height="9" fill="#c0c0c0"/><rect x="583" y="667" width="1" height="12" fill="#c0c0c0"/><rect x="591" y="667" width="1" height="8" fill="#c0c0c0"/><rect x="599" y="667" width="1" height="7" fill="#c0c0c0"/><rect x="607" y="667" width="1" height="5" fill="#c0c0c0"/><rect x="615" y="667" width="1" height="7" fill="#c0c0c0"/><rect x="623" y="667" width="1" height="8" fill="#c0c0c0"/><rect x="631" y="667" width="1" height="11" fill="#c0c0c0"/><rect x="639" y="667" width="1" height="13" fill="#c0c0c0"/><rect x="647" y="667" width="1" height="14" fill="#c0c0c0"/><rect x="655" y="667" width="1" height="19" fill="#c0c0c0"/><rect x="663" y="667" width="1" height="20" fill="#c0c0c0"/><rect x="671" y="667" width="1" height="18" fill="#c0c0c0"/><rect x="679" y="667" width="1" height="17" fill="#c0c0c0"/><rect x="687" y="667" width="1" height="17" fill="#c0c0c0"/><rect x="695" y="667" width="1" height="15" fill="#c0c0c0"/><rect x="703" y="667" width="1" height="14" fill="#c0c0c0"/><rect x="711" y="667" width="1" height="17" fill="#c0c0c0"/><rect x="719" y="667" width="1" height="22" fill="#c0c0c0"/><rect x="727" y="667" width="1" height="33" fill="#c0c0c0"/><rect x="735" y="667" width="1" height="40" fill="#c0c0c0"/><rect x="743" y="667" width="1" height="51" fill="#c0c0c0"/><rect x="751" y="667" width="1" height="57" fill="#c0c0c0"/><rect x="759" y="667" width="1" height="64" fill="#c0c0c0"/><rect x="767" y="667" width="1" height="70" fill="#c0c0c0"/><rect x="775" y="667" width="1" height="73" fill="#c0c0c0"/><rect x="783" y="667" width="1" height="75" fill="#c0c0c0"/><rect x="791" y="667" width="1" height="77" fill="#c0c0c0"/><rect x="799" y="667" width="1" height="75" fill="#c0c0c0"/><rect x="807" y="667" width="1" height="67" fill="#c0c0c0"/><rect x="815" y="667" width="1" height="60" fill="#c0c0c0"/><rect x="823" y="667" width="1" height="56" fill="#c0c0c0"/><rect x="831" y="667" width="1" height="50" fill="#c0c0c0"/><rect x="839" y="667" width="1" height="45" fill="#c0c0c0"/><rect x="847" y="667" width="1" height="41" fill="#c0c0c0"/><rect x="855" y="667" width="1" height="37" fill="#c0c0c0"/><rect x="863" y="667" width="1" height="35" fill="#c0c0c0"/><rect x="871" y="667" width="1" height="34" fill="#c0c0c0"/><rect x="879" y="667" width="1" height="43" fill="#c0c0c0"/><rect x="887" y="667" width="1" height="46" fill="#c0c0c0"/><rect x="895" y="667" width="1" height="50" fill="#c0c0c0"/><rect x="903" y="667" width="1" height="53" fill="#c0c0c0"/><rect x="911" y="667" width="1" height="49" fill="#c0c0c0"/><rect x="919" y="667" width="1" height="45" fill="#c0c0c0"/><rect x="927" y="667" width="1" height="41" fill="#c0c0c0"/><rect x="935" y="667" width="1" height="43" fill="#c0c0c0"/><rect x="943" y="667" width="1" height="48" fill="#c0c0c0"/><rect x="951" y="667" width="1" height="54" fill="#c0c0c0"/><rect x="959" y="667" width="1" height="61" fill="#c0c0c0"/><rect x="967" y="667" width="1" height="62" fill="#c0c0c0"/><rect x="975" y="667" width="1" height="57" fill="#c0c0c0"/><rect x="983" y="667" width="1" height="56" fill="#c0c0c0"/><rect x="991" y="667" width="1" height="52" fill="#c0c0c0"/><rect x="999" y="667" width="1" height="49" fill="#c0c0c0"/><rect x="1007" y="667" width="1" height="46" fill="#c0c0c0"/><rect x="1015" y="667" width="1" height="44" fill="#c0c0c0"/><rect x="1023" y="667" width="1" height="38" fill="#c0c0c0"/><rect x="1031" y="667" width="1" height="26" fill="#c0c0c0"/><rect x="1039" y="667" width="1" height="14" fill="#c0c0c0"/><rect x="1047" y="667" width="1" height="2" fill="#c0c0c0"/><rect x="1055" y="661" width="1" height="7" fill="#c0c0c0"/><rect x="1063" y="656" width="1" height="12" fill="#c0c0c0"/><rect x="1071" y="651" width="1" height="17" fill="#c0c0c0"/><rect x="1079" y="639" width="1" height="29" fill="#c0c0c0"/><rect x="1087" y="630" width="1" height="38" fill="#c0c0c0"/><rect x="1095" y="623" width="1" height="45" fill="#c0c0c0"/><rect x="1103" y="617" width="1" height="51" fill="#c0c0c0"/><rect x="1111" y="613" width="1" height="55" fill="#c0c0c0"/><rect x="1119" y="606" width="1" height="62" fill="#c0c0c0"/><rect x="1127" y="602" width="1" height="66" fill="#c0c0c0"/><rect x="1135" y="599" width="1" height="69" fill="#c0c0c0"/><rect x="1143" y="596" width="1" height="72" fill="#c0c0c0"/><rect x="1151" y="593" width="1" height="75" fill="#c0c0c0"/><rect x="1159" y="591" width="1" height="77" fill="#c0c0c0"/><rect x="1167" y="594" width="1" height="74" fill="#c0c0c0"/><rect x="1175" y="599" width="1" height="69" fill="#c0c0c0"/><rect x="1183" y="604" width="1" height="64" fill="#c0c0c0"/><rect x="1191" y="610" width="1" height="58" fill="#c0c0c0"/><rect x="1199" y="615" width="1" height="53" fill="#c0c0c0"/><rect x="1207" y="623" width="1" height="45" fill="#c0c0c0"/><rect x="1215" y="627" width="1" height="41" fill="#c0c0c0"/><rect x="1223" y="632" width="1" height="36" fill="#c0c0c0"/><rect x="1231" y="637" width="1" height="31" fill="#c0c0c0"/><rect x="1239" y="641" width="1" height="27" fill="#c0c0c0"/><rect x="1247" y="642" width="1" height="26" fill="#c0c0c0"/><rect x="1255" y="643" width="1" height="25" fill="#c0c0c0"/><rect x="1263" y="639" width="1" height="29" fill="#c0c0c0"/><rect x="1271" y="636" width="1" height="32" fill="#c0c0c0"/><rect x="1279" y="633" width="1" height="35" fill="#c0c0c0"/><rect x="1287" y="632" width="1" height="36" fill="#c0c0c0"/><rect x="1295" y="632" width="1" height="36" fill="#c0c0c0"/><rect x="1303" y="634" width="1" height="34" fill="#c0c0c0"/><rect x="1311" y="637" width="1" height="31" fill="#c0c0c0"/><rect x="1319" y="636" width="1" height="32" fill="#c0c0c0"/><rect x="1327" y="636" width="1" height="32" fill="#c0c0c0"/><rect x="1335" y="635" width="1" height="33" fill="#c0c0c0"/><rect x="1343" y="635" width="1" height="33" fill="#c0c0c0"/></g>
<polyline clip-path="url(#macdclip)" points="0.5,685.5 8.5,688.5 25.5,695.5 38.5,702.5 50.5,704.5 66.5,704.5 83.5,701.5 101.5,695.5 126.5,687.5 151.5,680.5 177.5,667.5 202.5,649.5 227.5,639.0 252.5,635.5 277.5,634.0 303.5,632.5 328.5,630.5 353.5,630.0 371.5,631.0 391.5,635.5 412.5,639.0 425.5,641.0 450.5,641.8 476.5,642.3 501.5,643.1 513.5,643.5 526.5,645.5 539.5,647.5 551.5,649.9 564.5,654.5 577.5,658.5 589.5,664.5 602.5,668.5 614.5,672.5 627.5,674.5 640.5,675.9 652.5,677.1 665.5,678.9 677.5,680.7 690.5,682.2 703.5,683.2 715.5,683.9 728.5,686.5 741.5,691.0 753.5,697.8 766.5,707.9 778.5,718.0 791.5,726.8 804.5,733.5 813.5,735.5 825.5,734.9 838.5,730.5 850.5,725.5 863.5,718.0 876.5,711.5 888.5,709.5 901.5,709.2 913.5,709.9 926.5,710.9 939.5,712.2 951.5,715.5 960.5,715.5 966.8,717.9 982.7,718.7 996.9,721.0 1019.0,720.6 1031.7,714.7 1044.4,706.0 1055.4,696.5 1068.1,685.1 1080.8,672.8 1091.8,660.9 1102.9,648.3 1112.4,639.5 1125.1,628.5 1137.7,618.2 1150.4,609.5 1161.5,603.2 1174.1,599.2 1185.2,597.6 1197.8,599.7 1207.3,603.2 1216.8,606.3 1225.5,611.3 1238.5,620.9 1250.5,627.7 1263.5,633.0 1276.5,636.5 1288.5,636.8 1301.5,636.8 1313.5,636.0 1326.5,634.7 1343.5,634.0" fill="none" stroke="#ff0000" stroke-width="1" stroke-dasharray="3,2" shape-rendering="crispEdges"/>
<text class="s" x="3.0" y="594.0" font-size="9" fill="#000" textLength="116.8" lengthAdjust="spacingAndGlyphs">MACD(12,26,9) 91.28 92.11</text>
<g shape-rendering="crispEdges"><rect x="1619" y="583" width="2" height="1" fill="#000"/><rect x="1619" y="667" width="2" height="1" fill="#000"/><rect x="1619" y="750" width="2" height="1" fill="#000"/></g>
<text class="s" x="1622.0" y="593.0" font-size="9" fill="#000" textLength="28.3" lengthAdjust="spacingAndGlyphs">230.88</text>
<text class="s" x="1622.0" y="671.0" font-size="9" fill="#000" textLength="18.0" lengthAdjust="spacingAndGlyphs">0.00</text>
<text class="s" x="1621.5" y="748.0" font-size="9" fill="#000" textLength="26.1" lengthAdjust="spacingAndGlyphs">-227.8</text>
<g stroke="#c0c0c0" stroke-width="1" stroke-dasharray="3,3" shape-rendering="crispEdges">
<line x1="0" y1="789.5" x2="1618" y2="789.5"/>
<line x1="0" y1="840.5" x2="1618" y2="840.5"/>
<line x1="0" y1="901.5" x2="1618" y2="901.5"/>
</g>
<polyline clip-path="url(#rsiclip)" points="-0.5,858.5 7.5,862.5 15.5,866.5 23.5,871.1 31.5,864.5 39.5,852.0 47.5,850.5 55.5,852.5 63.5,835.5 71.5,836.5 79.5,846.9 87.5,843.9 95.5,843.9 103.5,860.3 111.5,850.2 119.5,846.5 127.5,840.1 135.5,828.7 143.5,827.5 151.5,831.3 159.5,825.0 167.5,819.5 175.5,817.9 183.5,820.7 191.5,819.9 199.5,818.7 207.5,816.9 215.5,816.9 223.5,816.1 231.5,821.2 239.5,828.7 247.5,825.7 255.5,821.2 263.5,816.1 271.5,825.7 279.5,813.6 287.5,813.6 295.5,809.8 303.5,811.6 311.5,814.9 319.5,816.1 327.5,811.1 335.5,812.4 343.5,825.0 351.5,825.7 359.5,822.5 367.5,818.7 375.5,826.2 383.5,830.0 391.5,822.9 399.5,829.5 407.5,822.2 415.5,819.8 423.5,816.9 431.5,812.4 439.5,808.6 447.5,819.4 455.5,820.7 463.5,823.7 471.5,822.9 479.5,825.7 487.5,818.7 495.5,816.9 503.5,825.7 511.5,825.0 519.5,823.7 527.5,823.7 535.5,825.0 543.5,862.8 551.5,867.3 559.5,854.0 567.5,865.3 575.5,865.3 583.5,860.8 591.5,833.8 599.5,841.4 607.5,843.1 615.5,848.9 623.5,853.5 631.5,855.2 639.5,856.5 647.5,855.7 655.5,872.4 663.5,857.3 671.5,850.2 679.5,843.9 687.5,851.5 695.5,840.9 703.5,846.9 711.5,863.6 719.5,861.0 727.5,879.2 735.5,872.9 743.5,883.0 751.5,874.9 759.5,878.7 767.5,880.5 775.5,877.4 783.5,877.4 791.5,881.0 799.5,869.1 807.5,852.7 815.5,849.7 823.5,854.5 831.5,849.4 839.5,847.7 847.5,850.9 855.5,849.7 863.5,854.5 871.5,856.5 879.5,876.7 887.5,868.6 895.5,868.6 903.5,872.4 911.5,851.5 919.5,851.5 927.5,846.9 935.5,861.5 943.5,866.6 951.5,872.4 959.5,874.7 967.5,866.1 975.5,852.7 983.5,858.5 991.5,849.7 999.5,852.7 1007.5,852.7 1015.5,854.5 1023.5,841.4 1031.5,829.3 1039.5,823.2 1047.5,820.7 1055.5,821.7 1063.5,826.7 1071.5,824.5 1079.5,809.8 1087.5,811.6 1095.5,810.6 1103.5,809.1 1111.5,812.4 1119.5,804.8 1127.5,806.0 1135.5,806.0 1143.5,804.0 1151.5,802.3 1159.5,799.7 1167.5,814.1 1175.5,821.7 1183.5,825.0 1191.5,827.5 1199.5,829.3 1207.5,838.5 1215.5,830.8 1223.5,837.7 1231.5,837.7 1239.5,836.3 1247.5,831.5 1255.5,828.4 1263.5,814.8 1271.5,813.4 1279.5,812.0 1287.5,816.7 1295.5,820.3 1303.5,824.2 1311.5,830.7 1319.5,820.9 1327.5,819.5 1335.5,817.5 1343.5,815.3" fill="none" stroke="#1e90ff" stroke-width="1" shape-rendering="crispEdges"/>
<text class="s" x="3.0" y="767.0" font-size="9" fill="#000" textLength="68.1" lengthAdjust="spacingAndGlyphs">RSI(14) 64.6784</text>
<g shape-rendering="crispEdges">
<rect x="1619" y="755" width="2" height="1" fill="#000"/>
<rect x="1619" y="926" width="2" height="1" fill="#000"/>
</g>
<text class="s" x="1622.5" y="764.0" font-size="9" fill="#000" textLength="15.5" lengthAdjust="spacingAndGlyphs">100</text>
<text class="s" x="1621.0" y="793.0" font-size="9" fill="#000" textLength="10.3" lengthAdjust="spacingAndGlyphs">80</text>
<text class="s" x="1621.0" y="844.0" font-size="9" fill="#000" textLength="10.3" lengthAdjust="spacingAndGlyphs">50</text>
<text class="s" x="1621.0" y="905.0" font-size="9" fill="#000" textLength="10.3" lengthAdjust="spacingAndGlyphs">15</text>
<text class="s" x="1621.0" y="924.0" font-size="9" fill="#000" textLength="5.2" lengthAdjust="spacingAndGlyphs">0</text>
<g shape-rendering="crispEdges"><rect x="63" y="928" width="1" height="3" fill="#000"/><rect x="127" y="928" width="1" height="3" fill="#000"/><rect x="191" y="928" width="1" height="3" fill="#000"/><rect x="255" y="928" width="1" height="3" fill="#000"/><rect x="319" y="928" width="1" height="3" fill="#000"/><rect x="383" y="928" width="1" height="3" fill="#000"/><rect x="447" y="928" width="1" height="3" fill="#000"/><rect x="511" y="928" width="1" height="3" fill="#000"/><rect x="575" y="928" width="1" height="3" fill="#000"/><rect x="639" y="928" width="1" height="3" fill="#000"/><rect x="703" y="928" width="1" height="3" fill="#000"/><rect x="767" y="928" width="1" height="3" fill="#000"/><rect x="831" y="928" width="1" height="3" fill="#000"/><rect x="895" y="928" width="1" height="3" fill="#000"/><rect x="959" y="928" width="1" height="3" fill="#000"/><rect x="1023" y="928" width="1" height="3" fill="#000"/><rect x="1087" y="928" width="1" height="3" fill="#000"/><rect x="1151" y="928" width="1" height="3" fill="#000"/><rect x="1215" y="928" width="1" height="3" fill="#000"/><rect x="1279" y="928" width="1" height="3" fill="#000"/><rect x="1343" y="928" width="1" height="3" fill="#000"/></g><text class="s" x="-1.4" y="940.0" font-size="9" fill="#000" textLength="44.9" lengthAdjust="spacingAndGlyphs">3 Jan 2020</text><text class="s" x="61.5" y="940.0" font-size="9" fill="#000" textLength="47.7" lengthAdjust="spacingAndGlyphs">7 Jan 00:00</text><text class="s" x="125.5" y="940.0" font-size="9" fill="#000" textLength="47.7" lengthAdjust="spacingAndGlyphs">8 Jan 10:55</text><text class="s" x="189.5" y="940.0" font-size="9" fill="#000" textLength="47.7" lengthAdjust="spacingAndGlyphs">9 Jan 18:55</text><text class="s" x="253.5" y="940.0" font-size="9" fill="#000" textLength="53.0" lengthAdjust="spacingAndGlyphs">13 Jan 00:00</text><text class="s" x="317.5" y="940.0" font-size="9" fill="#000" textLength="53.0" lengthAdjust="spacingAndGlyphs">14 Jan 10:55</text><text class="s" x="381.5" y="940.0" font-size="9" fill="#000" textLength="53.0" lengthAdjust="spacingAndGlyphs">15 Jan 18:55</text><text class="s" x="445.5" y="940.0" font-size="9" fill="#000" textLength="53.0" lengthAdjust="spacingAndGlyphs">17 Jan 00:00</text><text class="s" x="509.5" y="940.0" font-size="9" fill="#000" textLength="53.0" lengthAdjust="spacingAndGlyphs">20 Jan 10:55</text><text class="s" x="573.5" y="940.0" font-size="9" fill="#000" textLength="53.0" lengthAdjust="spacingAndGlyphs">21 Jan 18:55</text><text class="s" x="637.5" y="940.0" font-size="9" fill="#000" textLength="53.0" lengthAdjust="spacingAndGlyphs">23 Jan 00:00</text><text class="s" x="701.5" y="940.0" font-size="9" fill="#000" textLength="53.0" lengthAdjust="spacingAndGlyphs">24 Jan 10:55</text><text class="s" x="765.5" y="940.0" font-size="9" fill="#000" textLength="53.0" lengthAdjust="spacingAndGlyphs">27 Jan 18:55</text><text class="s" x="829.5" y="940.0" font-size="9" fill="#000" textLength="53.0" lengthAdjust="spacingAndGlyphs">29 Jan 00:00</text><text class="s" x="893.5" y="940.0" font-size="9" fill="#000" textLength="53.0" lengthAdjust="spacingAndGlyphs">30 Jan 10:55</text><text class="s" x="957.5" y="940.0" font-size="9" fill="#000" textLength="53.0" lengthAdjust="spacingAndGlyphs">31 Jan 18:55</text><text class="s" x="1021.5" y="940.0" font-size="9" fill="#000" textLength="49.6" lengthAdjust="spacingAndGlyphs">4 Feb 00:00</text><text class="s" x="1085.5" y="940.0" font-size="9" fill="#000" textLength="49.6" lengthAdjust="spacingAndGlyphs">5 Feb 10:55</text><text class="s" x="1149.5" y="940.0" font-size="9" fill="#000" textLength="49.6" lengthAdjust="spacingAndGlyphs">6 Feb 18:55</text><text class="s" x="1213.5" y="940.0" font-size="9" fill="#000" textLength="54.9" lengthAdjust="spacingAndGlyphs">10 Feb 00:00</text><text class="s" x="1277.5" y="940.0" font-size="9" fill="#000" textLength="54.9" lengthAdjust="spacingAndGlyphs">11 Feb 10:55</text><text class="s" x="1341.5" y="940.0" font-size="9" fill="#000" textLength="54.9" lengthAdjust="spacingAndGlyphs">12 Feb 18:55</text>
<g shape-rendering="crispEdges"><path d="M2.5,46.5 H53.5 V69.5 H110.5 V109.5 H2.5 Z" fill="url(#bluegrad)" stroke="#0000a0" stroke-width="1"/><path d="M113.5,69.5 H168.5 V46.5 H220.5 V109.5 H113.5 Z" fill="url(#bluegrad)" stroke="#0000a0" stroke-width="1"/><rect x="6" y="69" width="44" height="1" fill="#10108a"/><rect x="6" y="70" width="44" height="1" fill="#8080ff"/><rect x="173" y="69" width="44" height="1" fill="#10108a"/><rect x="173" y="70" width="44" height="1" fill="#8080ff"/><rect x="54" y="46" width="114" height="23" fill="#f0f0f0"/><rect x="111" y="69" width="2" height="41" fill="#ffffff"/><rect x="56.5" y="46.5" width="110" height="21" fill="#fff" stroke="#a8a8a8"/><rect x="57.5" y="47.5" width="19" height="19" fill="url(#btngrad)" stroke="#c8c8c8"/><rect x="146.5" y="47.5" width="19" height="19" fill="url(#btngrad)" stroke="#c8c8c8"/></g><polygon points="64,56 70,56 67,59" fill="#5060a0"/><polygon points="153,59 159,59 156,56" fill="#5060a0"/><text x="142" y="61" font-size="12" fill="#000" text-anchor="end">1.00</text><text class="s" x="14.3" y="62" font-size="12.2" fill="#eeeeff" textLength="26" lengthAdjust="spacingAndGlyphs">SELL</text><text class="s" x="182" y="62" font-size="12.2" fill="#eeeeff" textLength="24" lengthAdjust="spacingAndGlyphs">BUY</text><text x="18" y="101" font-size="12" font-weight="bold" fill="#fff">23943</text><text x="56.3" y="100.6" font-size="33" fill="#fff" textLength="23.5" lengthAdjust="spacingAndGlyphs">.5</text><text x="129" y="101" font-size="12" font-weight="bold" fill="#fff">23966</text><text x="167.3" y="100.6" font-size="33" fill="#fff" textLength="23.5" lengthAdjust="spacingAndGlyphs">.5</text>
<g shape-rendering="crispEdges"><rect x="253" y="0" width="25" height="20" fill="#f7f7f7"/><rect x="253" y="0" width="1" height="20" fill="#a8a8a8"/><rect x="253" y="20" width="25" height="1" fill="#ffffff"/><rect x="405" y="0" width="25" height="20" fill="#f7f7f7"/><rect x="405" y="0" width="1" height="20" fill="#a8a8a8"/><rect x="405" y="20" width="25" height="1" fill="#ffffff"/><rect x="433" y="0" width="25" height="20" fill="#f7f7f7"/><rect x="433" y="0" width="1" height="20" fill="#a8a8a8"/><rect x="433" y="20" width="25" height="1" fill="#ffffff"/><rect x="594" y="0" width="24" height="20" fill="#f7f7f7"/><rect x="594" y="0" width="1" height="20" fill="#a8a8a8"/><rect x="594" y="20" width="24" height="1" fill="#ffffff"/><rect x="1039" y="0" width="25" height="20" fill="#f7f7f7"/><rect x="1039" y="0" width="1" height="20" fill="#a8a8a8"/><rect x="1039" y="20" width="25" height="1" fill="#ffffff"/><rect x="214" y="1" width="1" height="20" fill="#a0a0a0"/><rect x="215" y="1" width="1" height="20" fill="#ffffff"/><rect x="310" y="1" width="1" height="20" fill="#a0a0a0"/><rect x="311" y="1" width="1" height="20" fill="#ffffff"/><rect x="400" y="1" width="1" height="20" fill="#a0a0a0"/><rect x="401" y="1" width="1" height="20" fill="#ffffff"/><rect x="462" y="1" width="1" height="20" fill="#a0a0a0"/><rect x="463" y="1" width="1" height="20" fill="#ffffff"/><rect x="583" y="1" width="1" height="20" fill="#a0a0a0"/><rect x="584" y="1" width="1" height="20" fill="#ffffff"/><rect x="650" y="1" width="1" height="20" fill="#a0a0a0"/><rect x="651" y="1" width="1" height="20" fill="#ffffff"/><rect x="888" y="1" width="1" height="20" fill="#a0a0a0"/><rect x="889" y="1" width="1" height="20" fill="#ffffff"/><rect x="1039" y="1" width="1" height="20" fill="#a0a0a0"/><rect x="1040" y="1" width="1" height="20" fill="#ffffff"/><rect x="1150" y="1" width="1" height="20" fill="#a0a0a0"/><rect x="1151" y="1" width="1" height="20" fill="#ffffff"/><rect x="219" y="2" width="3" height="1" fill="#b0b0b0"/><rect x="219" y="4" width="3" height="1" fill="#b0b0b0"/><rect x="219" y="6" width="3" height="1" fill="#b0b0b0"/><rect x="219" y="8" width="3" height="1" fill="#b0b0b0"/><rect x="219" y="10" width="3" height="1" fill="#b0b0b0"/><rect x="219" y="12" width="3" height="1" fill="#b0b0b0"/><rect x="219" y="14" width="3" height="1" fill="#b0b0b0"/><rect x="219" y="16" width="3" height="1" fill="#b0b0b0"/><rect x="219" y="18" width="3" height="1" fill="#b0b0b0"/><rect x="587" y="2" width="3" height="1" fill="#b0b0b0"/><rect x="587" y="4" width="3" height="1" fill="#b0b0b0"/><rect x="587" y="6" width="3" height="1" fill="#b0b0b0"/><rect x="587" y="8" width="3" height="1" fill="#b0b0b0"/><rect x="587" y="10" width="3" height="1" fill="#b0b0b0"/><rect x="587" y="12" width="3" height="1" fill="#b0b0b0"/><rect x="587" y="14" width="3" height="1" fill="#b0b0b0"/><rect x="587" y="16" width="3" height="1" fill="#b0b0b0"/><rect x="587" y="18" width="3" height="1" fill="#b0b0b0"/><rect x="893" y="2" width="3" height="1" fill="#b0b0b0"/><rect x="893" y="4" width="3" height="1" fill="#b0b0b0"/><rect x="893" y="6" width="3" height="1" fill="#b0b0b0"/><rect x="893" y="8" width="3" height="1" fill="#b0b0b0"/><rect x="893" y="10" width="3" height="1" fill="#b0b0b0"/><rect x="893" y="12" width="3" height="1" fill="#b0b0b0"/><rect x="893" y="14" width="3" height="1" fill="#b0b0b0"/><rect x="893" y="16" width="3" height="1" fill="#b0b0b0"/><rect x="893" y="18" width="3" height="1" fill="#b0b0b0"/></g><path d="M-5,6.5 H1 V11.5 H5 V16.5 H1 V21 H-5 Z" fill="#18d818" stroke="#087808" stroke-width="1"/><text class="cjk" x="8" y="13" font-size="11.8" fill="#000">新订单</text><text class="cjk" x="160" y="13" font-size="11.8" fill="#000">自动交易</text><defs><linearGradient id="bookg" x1="0" y1="0" x2="1" y2="1"><stop offset="0" stop-color="#f8dc50"/><stop offset="1" stop-color="#c89018"/></linearGradient><linearGradient id="cloudg" x1="0" y1="0" x2="0" y2="1"><stop offset="0" stop-color="#ffffff"/><stop offset="1" stop-color="#c8d4e4"/></linearGradient></defs><path d="M56.3,12 L61.6,3.5 L71,10.8 L64,17.5 Z" fill="url(#bookg)" stroke="#9a6010" stroke-width="0.9"/><path d="M57.5,13 L64,17 L70.5,11.8" fill="none" stroke="#fff4c0" stroke-width="0.8"/><path d="M86.5,2.5 H95.5 V11 H86.5 Z" fill="#2a94f0" stroke="#1266c0" stroke-width="0.9"/><path d="M89,4.5 L89,10 M90,6 H94" stroke="#d8efff" stroke-width="1.2"/><path d="M85,17 Q84,13.5 87.5,13.3 Q88.5,10 92,10.5 Q95,9.8 96,12.6 Q99.5,12.8 99.5,15.2 Q99.5,17.5 97,17.5 H86.5 Q85,17.5 85,17 Z" fill="url(#cloudg)" stroke="#4a6aa8" stroke-width="0.9"/><path d="M115.5,14.5 A7,7 0 0 1 120,2.5" fill="none" stroke="#5a8ee0" stroke-width="1"/><path d="M117.5,12.5 A4,4 0 0 1 120,5.5" fill="none" stroke="#5a8ee0" stroke-width="1"/><path d="M120,2.5 A7.2,7.2 0 0 1 121,17" fill="none" stroke="#8cc08c" stroke-width="1.4"/><circle cx="120" cy="9.6" r="1.8" fill="#2a5fd0"/><path d="M120.5,10 V17.5" stroke="#20a020" stroke-width="1.4"/><path d="M140.5,8.5 L152.5,8.5 L147,17 Z" fill="#f4dc50" stroke="#c09020" stroke-width="0.8"/><ellipse cx="147" cy="6.5" rx="7.8" ry="2.6" fill="#58a8e0" stroke="#2a70b0" stroke-width="0.8"/><ellipse cx="147" cy="4.8" rx="3.6" ry="2.6" fill="#70b8ec" stroke="#2a70b0" stroke-width="0.8"/><circle cx="151.5" cy="13.8" r="4" fill="#e02818"/><rect x="150" y="12.3" width="3" height="3" fill="#fff"/><path d="M233.5,5 V18 M231,15.5 H243" stroke="#505050" stroke-width="1.2" fill="none"/><polygon points="233.5,3.5 231.8,6.5 235.2,6.5" fill="#505050"/><polygon points="245.0,15.5 242.5,14 242.5,17" fill="#505050"/><path d="M237,12.5 H240 M239.5,5 V13.5 M239.5,6.5 H242" stroke="#108a10" stroke-width="1.1" fill="none"/><path d="M261.5,5 V18 M259,15.5 H271" stroke="#505050" stroke-width="1.2" fill="none"/><polygon points="261.5,3.5 259.8,6.5 263.2,6.5" fill="#505050"/><polygon points="273.0,15.5 270.5,14 270.5,17" fill="#505050"/><path d="M267.5,2 V14" stroke="#109010" stroke-width="1.2"/><rect x="265.5" y="4.5" width="4" height="7.5" fill="#40dd40" stroke="#109010"/><path d="M289.5,5 V18 M287,15.5 H299" stroke="#505050" stroke-width="1.2" fill="none"/><polygon points="289.5,3.5 287.8,6.5 291.2,6.5" fill="#505050"/><polygon points="301.0,15.5 298.5,14 298.5,17" fill="#505050"/><path d="M288.5,12.5 Q291,9 294,7.3 Q296,7 299.8,11" stroke="#30a030" stroke-width="1.1" fill="none"/><line x1="329" y1="12" x2="334" y2="17" stroke="#c8a020" stroke-width="2.5"/><circle cx="324" cy="7.5" r="5.5" fill="#cfe4fa" stroke="#3a78c8" stroke-width="1.2"/><rect x="321" y="7" width="6" height="1.5" fill="#3a6fc0"/><rect x="323" y="4.5" width="1.5" height="6" fill="#3a6fc0"/><line x1="357" y1="12" x2="362" y2="17" stroke="#c8a020" stroke-width="2.5"/><circle cx="352" cy="7.5" r="5.5" fill="#cfe4fa" stroke="#3a78c8" stroke-width="1.2"/><rect x="349" y="7" width="6" height="1.5" fill="#3a6fc0"/><rect x="375" y="2" width="8" height="8" fill="#2ea02e"/><rect x="383" y="2" width="8" height="8" fill="#2a5fd0"/><rect x="375" y="10" width="8" height="8" fill="#2a5fd0"/><rect x="383" y="10" width="8" height="8" fill="#2ea02e"/><g fill="#fff"><rect x="377" y="5" width="4" height="2"/><rect x="385" y="5" width="4" height="2"/><rect x="377" y="13" width="4" height="2"/><rect x="385" y="13" width="4" height="2"/></g><path d="M413.5,5 V18 M411,15.5 H423" stroke="#505050" stroke-width="1.2" fill="none"/><polygon points="413.5,3.5 411.8,6.5 415.2,6.5" fill="#505050"/><polygon points="425.0,15.5 422.5,14 422.5,17" fill="#505050"/><polygon points="418.5,6.5 418.5,12.5 422.5,9.5" fill="#90e090" stroke="#10a010" stroke-width="1"/><path d="M441.5,5 V18 M439,15.5 H451" stroke="#505050" stroke-width="1.2" fill="none"/><polygon points="441.5,3.5 439.8,6.5 443.2,6.5" fill="#505050"/><polygon points="453.0,15.5 450.5,14 450.5,17" fill="#505050"/><path d="M447.5,4 V14" stroke="#1a70b0" stroke-width="1"/><polygon points="448.5,9.5 452,7 452,12" fill="#e04010"/><path d="M450,9.5 H453" stroke="#e04010"/><path d="M472.5,2.5 H481 L484,5.5 V15.5 H472.5 Z" fill="#fafafa" stroke="#808080"/><path d="M475.5,5 Q474.5,5 474.5,7 V12 Q474.5,13 475.5,13" fill="none" stroke="#504030" stroke-width="0.8"/><path d="M480,8.5 H484 V12 H487.5 V16 H484 V19.5 H480 V16 H476.5 V12 H480 Z" fill="#3ad83a" stroke="#0e900e" stroke-width="1"/><polygon points="494,9 500,9 497,12" fill="#000"/><circle cx="518" cy="10" r="8" fill="#1a66c8"/><circle cx="518" cy="10" r="7" fill="#3a8ee8"/><circle cx="518" cy="10" r="4.9" fill="#f4f8ff"/><path d="M518,6.5 V10 L521,11.5" stroke="#202a40" stroke-width="1" fill="none"/><polygon points="533,9 539,9 536,12" fill="#000"/><rect x="549.5" y="3.5" width="15" height="13" fill="#fff" stroke="#3a6fc0"/><rect x="550" y="4" width="14" height="1.5" fill="#7aa8e8"/><rect x="550" y="10" width="14" height="1" fill="#3a6fc0"/><path d="M551,9 L554,7.5 L556,8 L558,7.5 L560,8 L563,7" stroke="#b02010" fill="none"/><path d="M552,14.5 L554,13.5 L556,14 L559,12 L562,14" stroke="#20a020" fill="none"/><polygon points="572,9 578,9 575,12" fill="#000"/><polygon points="601,5 601,16 604,13 606,17 608,16 606,12 610,12" fill="#202020"/><path d="M633,4 V17 M626,10.5 H640" stroke="#404040" stroke-width="1" shape-rendering="crispEdges"/><rect x="632" y="9" width="3" height="3" fill="#f0f0f0"/><path d="M667.5,5 V16" stroke="#404040"/><path d="M689,10.5 H702" stroke="#404040"/><path d="M717,17 L730,5" stroke="#404040"/><path d="M744,13 L756,3 M748,16 L758,7.5" stroke="#505050" stroke-width="1.1" fill="none"/><path d="M747,8.5 L749,12 M750,6 L752,9.5 M753,3.5 L755,7" stroke="#505050" stroke-width="1" fill="none"/><text x="755" y="18.5" font-size="7.5" font-weight="bold" fill="#404040">E</text><g shape-rendering="crispEdges" stroke="#606060" stroke-dasharray="1,1" fill="none"><path d="M773,3.5 H786 M773,6.5 H786 M773,10.5 H786 M773,14.5 H782"/></g><text x="782.5" y="19" font-size="7.5" font-weight="bold" fill="#404040">F</text><text x="803.5" y="15" font-size="12.5" font-weight="bold" fill="#555555">A</text><rect x="829.5" y="3.5" width="12" height="13" fill="none" stroke="#606060" stroke-dasharray="1,1" shape-rendering="crispEdges"/><rect x="829" y="3" width="2" height="2" fill="#606060"/><text x="831" y="15" font-size="12" font-weight="bold" fill="#555555">T</text><polygon points="859.8,3.3 862.8,6.3 859.8,9.3 856.8,6.3" fill="#404040"/><polygon points="867.8,11.3 870.8,14.3 867.8,17.3 864.8,14.3" fill="#404040"/><path d="M860,9 L862.8,12.2 L866,9.2" stroke="#404040" stroke-width="1.3" fill="none"/><polygon points="877,9 883,9 880,12" fill="#000"/><text class="s" x="904.0" y="14.0" font-size="9" fill="#303030" textLength="12.5" lengthAdjust="spacingAndGlyphs">M1</text><text class="s" x="932.0" y="14.0" font-size="9" fill="#303030" textLength="12.5" lengthAdjust="spacingAndGlyphs">M5</text><text class="s" x="958.0" y="14.0" font-size="9" fill="#303030" textLength="17.9" lengthAdjust="spacingAndGlyphs">M15</text><text class="s" x="986.0" y="14.0" font-size="9" fill="#303030" textLength="17.9" lengthAdjust="spacingAndGlyphs">M30</text><text class="s" x="1017.0" y="14.0" font-size="9" fill="#303030" textLength="11.6" lengthAdjust="spacingAndGlyphs">H1</text><text class="s" x="1044.0" y="14.0" font-size="9" fill="#303030" textLength="11.6" lengthAdjust="spacingAndGlyphs">H4</text><text class="s" x="1073.0" y="14.0" font-size="9" fill="#303030" textLength="11.8" lengthAdjust="spacingAndGlyphs">D1</text><text class="s" x="1100.0" y="14.0" font-size="9" fill="#303030" textLength="13.6" lengthAdjust="spacingAndGlyphs">W1</text><text class="s" x="1127.0" y="14.0" font-size="9" fill="#303030" textLength="13.5" lengthAdjust="spacingAndGlyphs">MN</text><circle cx="1620.5" cy="7.4" r="3.7" fill="#f8f8ff" stroke="#2a68d8" stroke-width="1.5"/><path d="M1617.6,10.4 L1613.8,14.6" stroke="#2a5ed0" stroke-width="2.4" stroke-linecap="round"/><ellipse cx="1653" cy="7" rx="6.2" ry="4.3" fill="#f4f4f8" stroke="#808080" stroke-width="0.9"/><path d="M1654.5,11 L1656.5,13.8 L1657.2,10.4" fill="#f4f4f8" stroke="#606060" stroke-width="0.9"/><ellipse cx="1644" cy="11.3" rx="4.9" ry="3.5" fill="#f4f4f8" stroke="#808080" stroke-width="0.9"/><path d="M1642.2,14.3 L1641.8,16.8 L1644.8,14.6" fill="#f4f4f8" stroke="#606060" stroke-width="0.9"/>
</svg></body></html>
